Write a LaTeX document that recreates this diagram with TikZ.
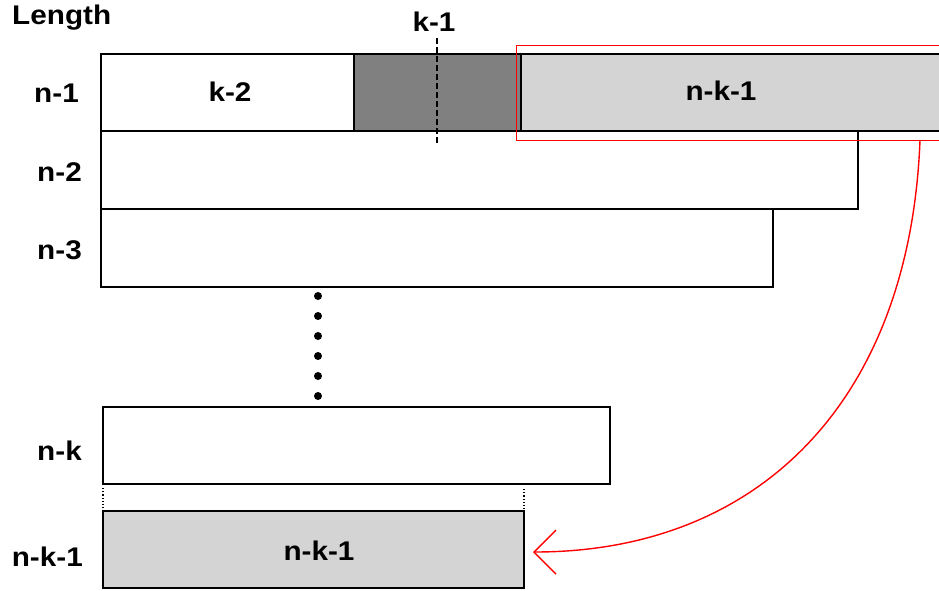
\documentclass[tikz,border=0pt]{standalone}
\usepackage{fontspec}
\setmainfont{Liberation Sans}
\usetikzlibrary{arrows.meta}
\definecolor{darkfill}{HTML}{808080}
\definecolor{lightfill}{HTML}{D4D4D4}
\begin{document}
\begin{tikzpicture}[x=1pt,y=-1pt,
  rowbox/.style={draw=black, line width=1.8pt, rectangle, anchor=north west, inner sep=0pt, outer sep=0pt},
  lbl/.style={font=\fontsize{27}{27}\selectfont\bfseries, inner sep=0pt, xscale=1.1},
  dotc/.style={circle, fill=black, inner sep=0pt, minimum size=8pt},
  redline/.style={draw=red, line width=1.4pt}]
\useasboundingbox[fill=white] (0,0) rectangle (939,590);
\clip (0,0) rectangle (939,590);
% rows
\node[rowbox, fill=white, minimum width=253, minimum height=77] (k2) at (101,54) {};
\node[rowbox, fill=darkfill, minimum width=167, minimum height=77] (dk) at (354,54) {};
\node[rowbox, fill=lightfill, minimum width=460, minimum height=77] (top) at (521,54) {};
\node[rowbox, fill=white, minimum width=757, minimum height=78] (r2) at (101,131) {};
\node[rowbox, fill=white, minimum width=672, minimum height=78] (r3) at (101,209) {};
\node[rowbox, fill=white, minimum width=507, minimum height=77] (rk) at (103,407) {};
\node[rowbox, fill=lightfill, minimum width=421, minimum height=77] (rk1) at (103,511) {};
% texts in boxes
\node[lbl] (tk2) at (230,92) {k-2};
\node[lbl] (tnk1) at (721,91) {n-k-1};
\node[lbl] (bnk1) at (319,551) {n-k-1};
% red frame
\node[draw=red, line width=1.4pt, rectangle, anchor=north west, inner sep=0pt, minimum width=450, minimum height=95] (redframe) at (516,45) {};
% k-1 dashed marker
\coordinate (kt) at (437,38);
\coordinate (kb) at (437,145);
\draw[line width=1.5pt, dash pattern=on 6pt off 3pt] (kt) -- (kb);
\node[lbl] (klab) at (434,22) {k-1};
% labels
\node[lbl, anchor=west] (len) at (12,18) {Length};
\node[lbl, anchor=east] (l1) at (79,93) {n-1};
\node[lbl, anchor=east] (l2) at (82,172) {n-2};
\node[lbl, anchor=east] (l3) at (82,250) {n-3};
\node[lbl, anchor=east] (lk) at (82,451) {n-k};
\node[lbl, anchor=east] (lk1) at (83,557) {n-k-1};
% dots
\foreach \i/\yy in {1/296,2/316,3/336,4/356,5/376,6/396} {
  \node[dotc] (d\i) at (318,\yy) {};
}
% dotted verticals
\draw[dotted, line width=1.2pt] (rk.south west) ++(0,4) -- (rk1.north west);
\draw[dotted, line width=1.2pt] (rk1.north east) ++(0,-22) -- (rk1.north east);
% red arrow
\coordinate (s) at (920,140);
\coordinate (tip) at (533,552);
\draw[redline, -{Straight Barb[length=22pt,width=44pt]}] (s) .. controls (910,400) and (760,552) .. (tip);
\end{tikzpicture}
\end{document}
